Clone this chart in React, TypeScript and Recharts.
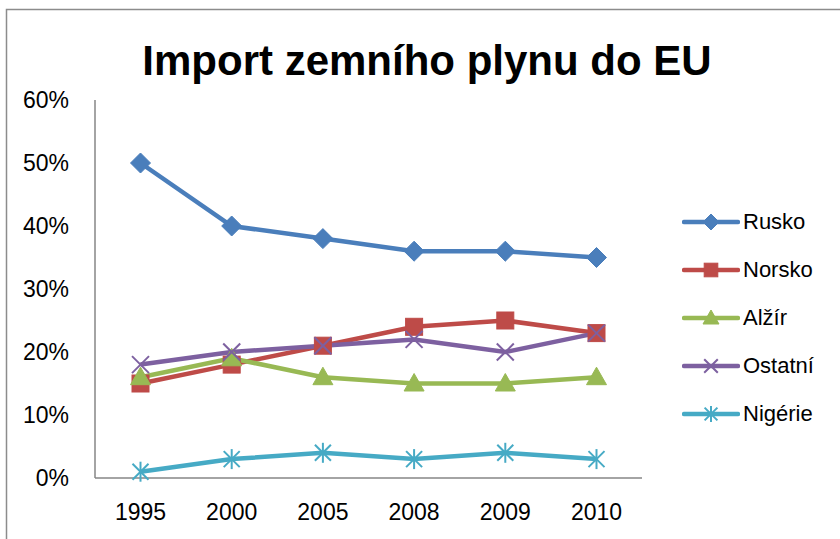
import React from 'react';
import { LineChart, Line, XAxis, YAxis } from 'recharts';

const years = ['1995', '2000', '2005', '2008', '2009', '2010'];
const rusko = [50, 40, 38, 36, 36, 35];
const norsko = [15, 18, 21, 24, 25, 23];
const alzir = [16, 19, 16, 15, 15, 16];
const ostatni = [18, 20, 21, 22, 20, 23];
const nigerie = [1, 3, 4, 3, 4, 3];
const yTicks = [0, 10, 20, 30, 40, 50, 60];

const seriesInfo = [
  { key: 'Rusko', values: rusko, color: '#4a7ebb', shape: 'diamond' },
  { key: 'Norsko', values: norsko, color: '#be4b48', shape: 'square' },
  { key: 'Alžír', values: alzir, color: '#98b954', shape: 'triangle' },
  { key: 'Ostatní', values: ostatni, color: '#7d60a0', shape: 'x' },
  { key: 'Nigérie', values: nigerie, color: '#46aac5', shape: 'star' },
];

const data = years.map((y, i) => {
  const row: any = { year: y };
  seriesInfo.forEach((s) => (row[s.key] = s.values[i]));
  return row;
});

const FONT = '"Liberation Sans", Arial, sans-serif';

function Marker({ shape, cx, cy, r, color }: any) {
  if (cx == null || cy == null) return null;
  switch (shape) {
    case 'diamond':
      return (
        <polygon
          points={`${cx},${cy - r} ${cx + r},${cy} ${cx},${cy + r} ${cx - r},${cy}`}
          fill={color}
          stroke={color}
          strokeWidth={1}
        />
      );
    case 'square':
      return <rect x={cx - r * 0.85} y={cy - r * 0.85} width={r * 1.7} height={r * 1.7} fill={color} stroke={color} strokeWidth={1} />;
    case 'triangle':
      return (
        <polygon
          points={`${cx},${cy - r} ${cx + r},${cy + r * 0.75} ${cx - r},${cy + r * 0.75}`}
          fill={color}
          stroke={color}
          strokeWidth={1}
        />
      );
    case 'x': {
      const d = r * 0.85;
      return (
        <g stroke={color} strokeWidth={2}>
          <line x1={cx - d} y1={cy - d} x2={cx + d} y2={cy + d} />
          <line x1={cx - d} y1={cy + d} x2={cx + d} y2={cy - d} />
        </g>
      );
    }
    case 'star': {
      const d = r * 0.8;
      return (
        <g stroke={color} strokeWidth={2}>
          <line x1={cx - d} y1={cy - d} x2={cx + d} y2={cy + d} />
          <line x1={cx - d} y1={cy + d} x2={cx + d} y2={cy - d} />
          <line x1={cx} y1={cy - r} x2={cx} y2={cy + r} />
        </g>
      );
    }
    default:
      return null;
  }
}

function LegendContent() {
  return (
    <div style={{ fontFamily: FONT, fontSize: 22, color: '#000' }}>
      {seriesInfo.map((s) => (
        <div key={s.key} style={{ height: 48, display: 'flex', alignItems: 'center' }}>
          <svg width={58} height={24} style={{ display: 'block' }}>
            <line x1={2} y1={12} x2={56} y2={12} stroke={s.color} strokeWidth={4.5} strokeLinecap="round" />
            <Marker shape={s.shape} cx={29} cy={12} r={8} color={s.color} />
          </svg>
          <span style={{ marginLeft: 3, lineHeight: '24px' }}>{s.key}</span>
        </div>
      ))}
    </div>
  );
}

export default function App() {
  return (
    <div style={{ position: 'absolute', left: 0, top: 0, width: 840, height: 539, background: '#fff', overflow: 'hidden' }}>
      <svg width={840} height={539} style={{ position: 'absolute', left: 0, top: 0 }}>
        <path d="M6.5,545 L6.5,9.5 L850,9.5" fill="none" stroke="#8c8c8c" strokeWidth={1.5} />
        <text x={427} y={75} textAnchor="middle" fontFamily={FONT} fontWeight="bold" fontSize={42} fill="#000">
          Import zemního plynu do EU
        </text>
      </svg>
      <div style={{ position: 'absolute', left: 0, top: 0 }}>
        <LineChart width={840} height={539} data={data} margin={{ top: 100, right: 198, bottom: 21, left: 0 }}>
          <XAxis
            dataKey="year"
            height={40}
            tickSize={0}
            tickMargin={26}
            padding={{ left: 45.5, right: 45.5 }}
            axisLine={{ stroke: '#868686', strokeWidth: 1.5 }}
            tick={{ fill: '#000', fontSize: 23, fontFamily: FONT }}
            interval={0}
          />
          <YAxis
            width={95}
            domain={[0, 60]}
            ticks={yTicks}
            tickSize={0}
            tickMargin={26}
            axisLine={{ stroke: '#868686', strokeWidth: 1.5 }}
            tick={{ fill: '#000', fontSize: 23, fontFamily: FONT }}
            tickFormatter={(v: number) => `${v}%`}
          />
          {seriesInfo.map((s) => (
            <Line
              key={s.key}
              dataKey={s.key}
              stroke={s.color}
              strokeWidth={4.5}
              isAnimationActive={false}
              dot={(p: any) => (
                <g key={`${s.key}-${p.index}`}>
                  <Marker shape={s.shape} cx={p.cx} cy={p.cy} r={10} color={s.color} />
                </g>
              )}
              activeDot={false}
            />
          ))}
        </LineChart>
      </div>
      <div style={{ position: 'absolute', left: 682, top: 198, width: 150 }}>
        <LegendContent />
      </div>
    </div>
  );
}
